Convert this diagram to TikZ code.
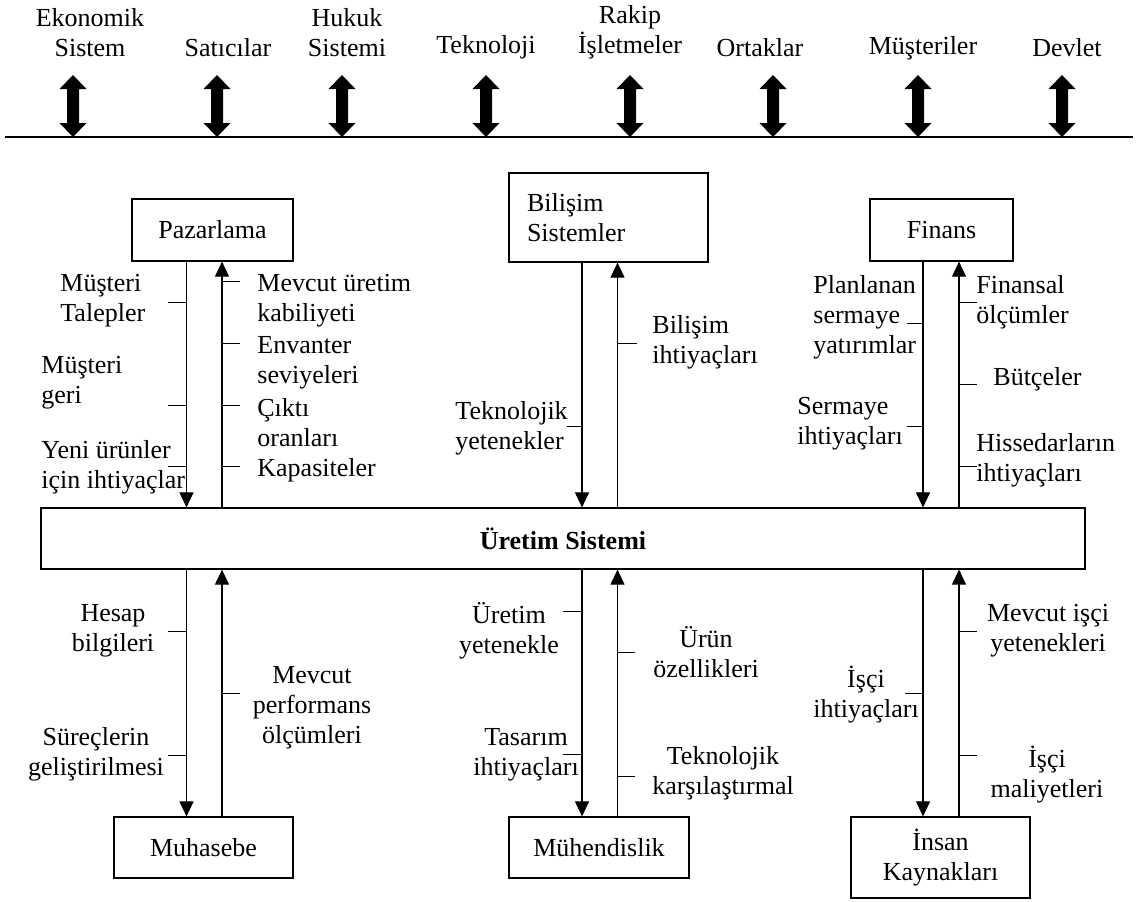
\documentclass[tikz,border=0pt]{standalone}
\usepackage{fontspec}
\setmainfont{Liberation Serif}
\usetikzlibrary{arrows.meta}
\begin{document}
\begin{tikzpicture}[x=0.5pt,y=-0.5pt,
  every node/.style={inner sep=0pt, font=\fontsize{13}{15}\selectfont},
  box/.style={draw, line width=0.6pt, inner sep=0pt, minimum height=30.5pt},
  lbl/.style={align=left, anchor=west},
  clbl/.style={align=center},
  flow/.style={line width=0.55pt, -{Triangle[length=7.5pt,width=7pt]}},
  tick/.style={line width=0.5pt},
  bigarrow/.style={fill=black}]
\useasboundingbox (0,0) rectangle (1138,901);

% top environment
\node[clbl] (e1) at (90,32.5) {Ekonomik\\Sistem};
\node[clbl] (e2) at (228,48) {Satıcılar};
\node[clbl] (e3) at (347,32.5) {Hukuk\\Sistemi};
\node[clbl] (e4) at (486,47) {Teknoloji};
\node[clbl] (e5) at (630,32.5) {Rakip\\İşletmeler};
\node[clbl] (e6) at (760,48) {Ortaklar};
\node[clbl] (e7) at (923,48) {Müşteriler};
\node[clbl] (e8) at (1067,48) {Devlet};
\coordinate (hl) at (5,137);
\coordinate (hr) at (1133,137);
\draw[line width=0.8pt] (hl) -- (hr);
\foreach \x in {73,217,342,486,630,773,918,1062}{
  \fill[bigarrow] (\x,75) -- (\x+13.5,89) -- (\x+6,89) -- (\x+6,123) -- (\x+13.5,123)
    -- (\x,137) -- (\x-13.5,123) -- (\x-6,123) -- (\x-6,89) -- (\x-13.5,89) -- cycle;
}

% boxes
\node[box, minimum width=80.5pt, minimum height=31pt] (paz) at (212.5,230) {Pazarlama};
\node[box, text width=81.5pt, inner xsep=9pt, align=left, minimum height=44.5pt] (bil) at (608.5,217.5) {Bilişim\\Sistemler};
\node[box, minimum width=71.5pt, minimum height=31pt] (fin) at (941.5,230) {Finans};
\node[box, minimum width=522pt, minimum height=30.5pt, font=\fontsize{13}{15}\selectfont\bfseries] (ure) at (563,538.5) {Üretim Sistemi};
\node[box, minimum width=89.5pt] (muh) at (203.5,847.5) {Muhasebe};
\node[box, minimum width=90pt] (mue) at (599,847.5) {Mühendislik};
\node[box, minimum width=89.5pt, minimum height=40.5pt, align=center] (ins) at (940.5,857.5) {İnsan\\Kaynakları};

% arrow x positions
\coordinate (L1) at (186.5,0);
\coordinate (L2) at (222,0);
\coordinate (M1) at (582,0);
\coordinate (M2) at (617.5,0);
\coordinate (R1) at (923,0);
\coordinate (R2) at (959,0);

% flows
\draw[flow] (L1 |- paz.south) -- (L1 |- ure.north);
\draw[flow] (L2 |- ure.north) -- (L2 |- paz.south);
\draw[flow] (M1 |- bil.south) -- (M1 |- ure.north);
\draw[flow] (M2 |- ure.north) -- (M2 |- bil.south);
\draw[flow] (R1 |- fin.south) -- (R1 |- ure.north);
\draw[flow] (R2 |- ure.north) -- (R2 |- fin.south);
\draw[flow] (L1 |- ure.south) -- (L1 |- muh.north);
\draw[flow] (L2 |- muh.north) -- (L2 |- ure.south);
\draw[flow] (M1 |- ure.south) -- (M1 |- mue.north);
\draw[flow] (M2 |- mue.north) -- (M2 |- ure.south);
\draw[flow] (R1 |- ure.south) -- (R1 |- ins.north);
\draw[flow] (R2 |- ins.north) -- (R2 |- ure.south);

% Pazarlama labels
\node[lbl] (p1) at (60,300.5) {Müşteri\\Talepler};
\node[lbl] (p2) at (41,383) {Müşteri\\geri};
\node[lbl] (p3) at (41,467.5) {Yeni ürünler\\için ihtiyaçlar};
\node[lbl] (p4) at (257,300.5) {Mevcut üretim\\kabiliyeti};
\node[lbl] (p5) at (257,363) {Envanter\\seviyeleri};
\node[lbl] (p6) at (257,423) {Çıktı\\oranları};
\node[lbl] (p7) at (257,470) {Kapasiteler};
\foreach \y in {302,405,466} \draw[tick] (168,\y) -- (186.5,\y);
\foreach \y in {281,343,405,466} \draw[tick] (222,\y) -- (240,\y);

% Bilisim labels
\node[lbl] (b1) at (652,342) {Bilişim\\ihtiyaçları};
\node[lbl] (b2) at (455,428) {Teknolojik\\yetenekler};
\draw[tick] (567,426) -- (582,426);
\draw[tick] (617.5,343) -- (637,343);

% Finans labels
\node[lbl] (f1) at (813,317) {Planlanan\\sermaye\\yatırımlar};
\node[lbl] (f2) at (797,424) {Sermaye\\ihtiyaçları};
\node[lbl] (f3) at (976,302) {Finansal\\ölçümler};
\node[lbl] (f4) at (993,379) {Bütçeler};
\node[lbl] (f5) at (976,460) {Hissedarların\\ihtiyaçları};
\foreach \y in {323,426} \draw[tick] (907,\y) -- (923,\y);
\foreach \y in {302,384,466} \draw[tick] (959,\y) -- (977,\y);

% Muhasebe labels
\node[clbl] (m1) at (113,630.5) {Hesap\\bilgileri};
\node[clbl] (m2) at (96,754) {Süreçlerin\\geliştirilmesi};
\node[clbl] (m3) at (312,708) {Mevcut\\performans\\ölçümleri};
\foreach \y in {631,755} \draw[tick] (168,\y) -- (186.5,\y);
\draw[tick] (222,693) -- (240,693);

% Muhendislik labels
\node[clbl] (n1) at (509,631) {Üretim\\yetenekle};
\node[clbl] (n2) at (526,754.5) {Tasarım\\ihtiyaçları};
\node[clbl] (n3) at (706,652) {Ürün\\özellikleri};
\node[clbl] (n4) at (723,773) {Teknolojik\\karşılaştırmal};
\foreach \y in {611,754} \draw[tick] (563,\y) -- (582,\y);
\foreach \y in {652,776} \draw[tick] (617.5,\y) -- (635,\y);

% Insan Kaynaklari labels
\node[clbl] (i1) at (866,695) {İşçi\\ihtiyaçları};
\node[clbl] (i2) at (1048,630.5) {Mevcut işçi\\yetenekleri};
\node[clbl] (i3) at (1047,775) {İşçi\\maliyetleri};
\draw[tick] (905,693) -- (923,693);
\foreach \y in {631,755} \draw[tick] (959,\y) -- (977,\y);
\end{tikzpicture}
\end{document}
